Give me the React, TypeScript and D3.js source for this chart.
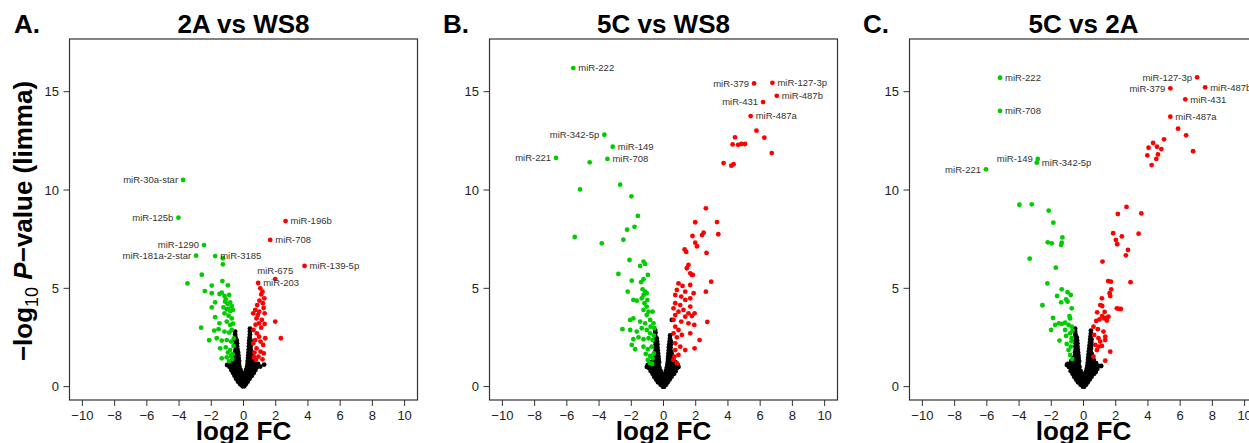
import React from 'react';
import * as d3 from 'd3';

type Pt = [number, number];
type Lab = [string, number, number];

const panelTitles = ['2A vs WS8', '5C vs WS8', '5C vs 2A'];
const panelLetters = ['A.', 'B.', 'C.'];
const xTicks = [-10, -8, -6, -4, -2, 0, 2, 4, 6, 8, 10];
const yTicks = [0, 5, 10, 15];

// ---- panel A: 2A vs WS8 ----
const aDown: Pt[] = [
  [-3.75, 10.51], [-4.04, 8.59], [-2.45, 7.2], [-2.94, 6.66], [-1.76, 6.64],
  [-1.28, 6.53], [-1.28, 6.22], [-2.59, 5.69], [-3.48, 5.25], [-1.31, 5.37], [-1.97, 5.14],
  [-0.97, 5.15], [-2.4, 4.86], [-1.97, 4.75], [-1.49, 4.71], [-1.35, 4.78], [-1.18, 4.61],
  [-0.89, 4.66], [-1.76, 4.29], [-1.14, 4.32], [-0.99, 4.2], [-0.83, 4.29], [-0.73, 4.1],
  [-1.97, 4.03], [-1.24, 4.03], [-1.04, 3.93], [-0.83, 3.85], [-0.66, 3.9], [-1.18, 3.73],
  [-0.93, 3.61], [-1.76, 3.53], [-0.73, 3.47], [-1.49, 3.22], [-1.04, 3.31], [-0.83, 3.14],
  [-2.63, 3.0], [-1.82, 2.85], [-1.55, 2.92], [-1.18, 2.8], [-0.89, 2.75], [-0.73, 2.88],
  [-2.13, 2.36], [-1.66, 2.46], [-1.35, 2.34], [-1.04, 2.37], [-0.77, 2.29], [-1.45, 1.95],
  [-1.1, 2.0], [-0.83, 1.86], [-0.62, 2.07], [-1.35, 1.44], [-1.04, 1.49], [-0.77, 1.56],
  [-0.97, 1.73], [-0.68, 1.65], [-0.9, 1.3], [-0.7, 1.4], [-0.6, 2.45], [-0.65, 3.2],
  [-0.95, 3.95], [-1.1, 4.45],
];
const aUp: Pt[] = [
  [2.61, 8.42], [1.66, 7.46], [3.79, 6.14], [1.97, 5.47], [0.91, 5.27],
  [1.04, 5.0], [1.18, 4.83], [1.1, 4.69], [1.29, 4.49], [0.99, 4.37], [1.2, 4.24], [0.73, 3.9],
  [0.97, 3.81], [0.6, 3.73], [0.89, 3.64], [1.31, 3.73], [0.81, 3.47], [1.14, 3.39], [1.31, 3.19],
  [0.97, 3.22], [1.97, 3.31], [2.32, 2.46], [0.62, 2.88], [0.83, 2.71], [0.97, 2.54], [0.73, 2.37],
  [1.06, 2.29], [1.22, 2.12], [0.81, 1.95], [1.06, 1.78], [1.26, 1.69], [0.93, 1.53], [1.18, 1.39],
  [0.68, 1.73], [0.77, 1.36], [1.35, 2.46], [0.6, 2.2], [0.66, 1.5], [1.1, 3.0], [0.75, 3.15],
  [1.25, 4.0], [0.85, 4.15],
];
const aNs: Pt[] = [
  [0.4, 2.95], [-0.52, 2.8], [0.4, 2.8], [-0.52, 2.65], [0.4, 2.65], [-0.5, 2.5], [0.38, 2.5],
  [-0.5, 2.35], [-0.42, 2.35], [0.36, 2.35], [0.44, 2.35], [-0.48, 2.2], [-0.4, 2.2], [0.35, 2.2], [0.44, 2.2],
  [-0.5, 2.05], [-0.4, 2.05], [0.34, 2.05], [0.44, 2.05], [-0.48, 1.9], [-0.38, 1.9], [0.33, 1.9], [0.44, 1.9],
  [-0.52, 1.75], [-0.42, 1.75], [-0.34, 1.75], [0.31, 1.75], [0.4, 1.75], [0.5, 1.75],
  [-0.5, 1.6], [-0.4, 1.6], [-0.32, 1.6], [0.3, 1.6], [0.4, 1.6], [0.5, 1.6],
  [-0.6, 1.45], [-0.48, 1.45], [-0.38, 1.45], [-0.3, 1.45], [0.28, 1.45], [0.38, 1.45], [0.5, 1.45], [0.6, 1.45],
  [-0.7, 1.3], [-0.56, 1.3], [-0.44, 1.3], [-0.34, 1.3], [-0.27, 1.3], [0.26, 1.3], [0.36, 1.3], [0.48, 1.3], [0.6, 1.3], [0.7, 1.3],
  [-1.02, 1.1], [-0.9, 1.15], [-0.76, 1.15], [-0.62, 1.15], [-0.5, 1.15], [-0.38, 1.15], [-0.28, 1.15],
  [0.25, 1.15], [0.35, 1.15], [0.48, 1.15], [0.62, 1.15], [0.76, 1.15], [0.9, 1.15], [1.04, 1.02], [1.28, 1.12],
  [-0.86, 1.0], [-0.72, 1.0], [-0.58, 1.0], [-0.46, 1.0], [-0.34, 1.0], [-0.25, 1.0],
  [0.22, 1.0], [0.32, 1.0], [0.44, 1.0], [0.58, 1.0], [0.72, 1.0], [0.84, 1.0],
  [-0.76, 0.85], [-0.62, 0.85], [-0.5, 0.85], [-0.38, 0.85], [-0.27, 0.85], [-0.18, 0.85],
  [0.16, 0.85], [0.26, 0.85], [0.38, 0.85], [0.5, 0.85], [0.64, 0.85], [0.74, 0.85],
  [-0.66, 0.7], [-0.54, 0.7], [-0.42, 0.7], [-0.3, 0.7], [-0.18, 0.7], [-0.08, 0.7],
  [0.08, 0.7], [0.18, 0.7], [0.3, 0.7], [0.42, 0.7], [0.56, 0.7], [0.64, 0.7],
  [-0.56, 0.55], [-0.44, 0.55], [-0.32, 0.55], [-0.2, 0.55], [-0.08, 0.55], [0.04, 0.55],
  [0.16, 0.55], [0.28, 0.55], [0.4, 0.55], [0.52, 0.55],
  [-0.46, 0.4], [-0.34, 0.4], [-0.22, 0.4], [-0.1, 0.4], [0.02, 0.4], [0.14, 0.4], [0.26, 0.4], [0.38, 0.4],
  [-0.34, 0.25], [-0.22, 0.25], [-0.1, 0.25], [0.02, 0.25], [0.14, 0.25], [0.26, 0.25],
  [-0.2, 0.12], [-0.08, 0.12], [0.04, 0.12], [0.14, 0.12], [-0.06, 0.02], [0.04, 0.02],
];
const aLabels: Lab[] = [
  ['miR-30a-star', -3.75, 10.51], ['miR-125b', -4.04, 8.59], ['miR-1290', -2.45, 7.2],
  ['miR-181a-2-star', -2.94, 6.66], ['miR-3185', -1.76, 6.64], ['miR-196b', 2.61, 8.42],
  ['miR-708', 1.66, 7.46], ['miR-139-5p', 3.79, 6.14], ['miR-675', 1.97, 5.47], ['miR-203', 0.91, 5.27],
];

// ---- panel B: 5C vs WS8 ----
const bDown: Pt[] = [
  [-5.6, 16.2], [-3.67, 12.81], [-3.15, 12.2], [-6.67, 11.63], [-3.48, 11.58],
  [-4.58, 11.41], [-5.18, 10.03], [-2.69, 10.27], [-1.99, 9.68], [-1.59, 8.68], [-1.8, 8.13],
  [-2.26, 7.98], [-2.49, 7.47], [-5.51, 7.61], [-3.83, 7.29],
  [-2.11, 6.44], [-1.24, 6.36], [-1.14, 6.24], [-1.45, 6.14], [-2.8, 5.73], [-0.97, 5.68],
  [-1.97, 5.39], [-1.24, 5.46], [-1.39, 5.31], [-2.22, 4.83], [-1.14, 4.83], [-1.24, 4.66],
  [-1.04, 4.75], [-1.87, 4.41], [-1.66, 4.37], [-1.35, 4.49], [-1.18, 4.24], [-1.04, 4.07],
  [-1.24, 3.9], [-0.93, 3.81], [-0.68, 3.81], [-1.04, 3.64], [-1.87, 3.47], [-2.07, 3.39],
  [-1.45, 3.31], [-1.14, 3.22], [-0.83, 3.39], [-0.62, 3.22], [-2.55, 2.92], [-2.07, 2.88],
  [-1.66, 2.8], [-1.35, 2.97], [-1.04, 2.88], [-0.83, 2.71], [-0.56, 2.97], [-1.87, 2.41],
  [-1.55, 2.51], [-1.24, 2.41], [-0.93, 2.46], [-0.68, 2.37], [-1.97, 2.12], [-1.76, 1.9],
  [-1.24, 2.03], [-0.97, 1.9], [-0.73, 2.03], [-1.1, 1.66], [-0.83, 1.56], [-0.6, 1.69],
  [-0.97, 1.36], [-0.68, 1.44], [-0.85, 1.2], [-0.7, 1.15], [-1.0, 4.4], [-1.3, 4.95],
  [-0.8, 3.05], [-0.6, 2.6],
];
const bUp: Pt[] = [
  [5.62, 15.42], [6.76, 15.45], [7.03, 14.79], [6.18, 14.47], [5.41, 13.76],
  [5.77, 13.02], [6.26, 12.66], [4.44, 12.68], [4.29, 12.32], [4.63, 12.3], [4.83, 12.34],
  [5.06, 12.34], [6.72, 11.88], [3.73, 11.37], [4.21, 11.24], [4.35, 11.31],
  [2.63, 9.07], [1.97, 8.36], [3.32, 8.37], [3.4, 7.75], [1.8, 7.66], [2.39, 7.71], [2.49, 7.83],
  [1.97, 7.32], [2.08, 7.14], [1.31, 6.98], [1.41, 6.85], [2.67, 6.8],
  [1.55, 6.19], [1.45, 6.02], [1.76, 5.68], [1.66, 5.76], [0.93, 5.25], [1.18, 5.12], [1.66, 5.17],
  [0.83, 4.92], [1.35, 4.83], [0.73, 4.66], [1.1, 4.58], [1.35, 4.41], [1.66, 4.49], [0.73, 4.24],
  [1.04, 4.15], [1.66, 4.07], [0.62, 3.98], [0.93, 3.81], [1.24, 3.9], [1.55, 3.73], [0.73, 3.64],
  [1.35, 3.56], [1.76, 3.59], [0.62, 3.39], [1.1, 3.31], [1.55, 3.22], [0.73, 3.05], [0.93, 2.88],
  [0.62, 2.71], [1.14, 2.63], [1.66, 2.71], [0.83, 2.51], [2.24, 2.37], [0.73, 2.2], [1.04, 2.03],
  [1.93, 1.95], [0.73, 1.86], [1.35, 1.86], [0.68, 1.53], [0.93, 1.61], [0.62, 1.36], [0.83, 1.19],
  [2.96, 5.34], [2.63, 4.83], [2.72, 3.29], [1.91, 3.14], [1.93, 3.73], [1.87, 4.75], [1.82, 5.68],
];
const bNs: Pt[] = [
  [0.52, 3.39], [-0.52, 2.88], [-0.5, 2.75], [-0.52, 2.6], [0.41, 2.6],
  [-0.5, 2.45], [-0.42, 2.45], [0.4, 2.45], [-0.5, 2.3], [-0.4, 2.3], [0.38, 2.3], [0.46, 2.3],
  [-0.48, 2.15], [-0.38, 2.15], [0.36, 2.15], [0.45, 2.15], [-0.5, 2.0], [-0.38, 2.0], [0.34, 2.0], [0.44, 2.0],
  [-0.48, 1.85], [-0.36, 1.85], [0.33, 1.85], [0.43, 1.85],
  [-0.54, 1.7], [-0.44, 1.7], [-0.34, 1.7], [0.31, 1.7], [0.4, 1.7], [0.5, 1.7],
  [-0.52, 1.55], [-0.42, 1.55], [-0.32, 1.55], [0.3, 1.55], [0.4, 1.55], [0.5, 1.55],
  [-0.64, 1.4], [-0.52, 1.4], [-0.4, 1.4], [-0.3, 1.4], [0.28, 1.4], [0.38, 1.4], [0.5, 1.4], [0.6, 1.4],
  [-0.76, 1.25], [-0.62, 1.25], [-0.48, 1.25], [-0.36, 1.25], [-0.27, 1.25],
  [0.26, 1.25], [0.36, 1.25], [0.48, 1.25], [0.62, 1.25], [0.74, 1.25],
  [-1.03, 1.0], [-0.98, 1.1], [-0.84, 1.1], [-0.7, 1.1], [-0.56, 1.1], [-0.42, 1.1], [-0.3, 1.1],
  [0.24, 1.1], [0.34, 1.1], [0.46, 1.1], [0.6, 1.1], [0.74, 1.1], [0.88, 1.1], [0.93, 1.0],
  [-0.9, 0.95], [-0.76, 0.95], [-0.62, 0.95], [-0.48, 0.95], [-0.36, 0.95], [-0.25, 0.95],
  [0.2, 0.95], [0.3, 0.95], [0.42, 0.95], [0.56, 0.95], [0.7, 0.95], [0.84, 0.95],
  [-0.8, 0.8], [-0.66, 0.8], [-0.52, 0.8], [-0.4, 0.8], [-0.28, 0.8], [-0.18, 0.8],
  [0.15, 0.8], [0.26, 0.8], [0.38, 0.8], [0.5, 0.8], [0.64, 0.8], [0.76, 0.8],
  [-0.68, 0.65], [-0.56, 0.65], [-0.44, 0.65], [-0.32, 0.65], [-0.2, 0.65], [-0.08, 0.65],
  [0.06, 0.65], [0.18, 0.65], [0.3, 0.65], [0.42, 0.65], [0.54, 0.65], [0.66, 0.65],
  [-0.58, 0.5], [-0.46, 0.5], [-0.34, 0.5], [-0.22, 0.5], [-0.1, 0.5], [0.02, 0.5],
  [0.14, 0.5], [0.26, 0.5], [0.38, 0.5], [0.5, 0.5],
  [-0.46, 0.36], [-0.34, 0.36], [-0.22, 0.36], [-0.1, 0.36], [0.02, 0.36], [0.14, 0.36], [0.26, 0.36], [0.38, 0.36],
  [-0.34, 0.22], [-0.22, 0.22], [-0.1, 0.22], [0.02, 0.22], [0.14, 0.22], [0.26, 0.22],
  [-0.18, 0.1], [-0.06, 0.1], [0.06, 0.1], [0.16, 0.1], [-0.04, 0.0], [0.04, 0.0],
];
const bLabels: Lab[] = [
  ['miR-222', -5.6, 16.2], ['miR-342-5p', -3.67, 12.81], ['miR-149', -3.15, 12.2],
  ['miR-221', -6.67, 11.63], ['miR-708', -3.48, 11.58], ['miR-379', 5.62, 15.42],
  ['miR-127-3p', 6.76, 15.45], ['miR-487b', 7.03, 14.79], ['miR-431', 6.18, 14.47], ['miR-487a', 5.41, 13.76],
];

// ---- panel C: 5C vs 2A ----
const cDown: Pt[] = [
  [-5.18, 15.71], [-5.18, 14.02], [-2.84, 11.58], [-2.9, 11.39], [-6.05, 11.05],
  [-3.98, 9.25], [-3.21, 9.27], [-2.16, 8.95], [-1.87, 8.34], [-1.31, 7.59], [-2.22, 7.34],
  [-1.97, 7.29], [-1.35, 7.32], [-1.39, 7.2], [-3.34, 6.51], [-1.72, 6.05], [-2.24, 5.25],
  [-1.35, 4.95], [-0.99, 4.8], [-0.79, 4.66], [-1.64, 4.61], [-1.08, 4.44], [-0.99, 4.32],
  [-1.39, 4.29], [-2.55, 4.14], [-0.73, 3.98], [-0.87, 3.59], [-0.83, 3.47], [-1.89, 3.49],
  [-1.53, 3.22], [-1.35, 3.19], [-1.14, 3.25], [-0.93, 3.14], [-0.73, 3.05], [-2.01, 2.88],
  [-1.76, 3.14], [-1.14, 2.88], [-0.83, 2.71], [-1.08, 2.58], [-1.49, 2.34], [-0.73, 2.46],
  [-1.04, 2.17], [-0.79, 2.03], [-0.93, 1.86], [-0.83, 1.61], [-0.7, 1.4], [-0.75, 2.3], [-0.68, 2.85],
];
const cUp: Pt[] = [
  [7.05, 15.73], [5.39, 15.17], [7.55, 15.22], [6.32, 14.61], [5.39, 13.73],
  [5.87, 13.12], [6.37, 12.78], [5.0, 12.58], [4.32, 12.39], [4.04, 12.15], [4.56, 12.2],
  [4.83, 12.08], [3.96, 11.76], [4.62, 11.81], [4.52, 11.58], [4.23, 11.27], [6.8, 11.97],
  [2.67, 9.14], [3.59, 8.81], [2.13, 8.78], [1.84, 7.8], [2.38, 7.64], [3.42, 7.78], [2.01, 7.46],
  [2.09, 7.24], [2.76, 6.95], [2.63, 6.68], [1.18, 6.36], [2.92, 5.31], [1.53, 5.37], [1.7, 5.34],
  [1.62, 4.75], [1.66, 4.61], [1.72, 4.95], [1.14, 4.49], [1.04, 4.15], [2.07, 3.98], [2.2, 3.95],
  [2.32, 3.95], [0.85, 3.78], [1.31, 3.8], [1.55, 3.56], [1.45, 3.36], [1.16, 3.59], [0.79, 3.34],
  [0.99, 3.42], [1.28, 3.47], [1.45, 3.51], [0.62, 3.05], [0.89, 2.92], [1.24, 2.8], [0.66, 2.63],
  [0.93, 2.46], [1.04, 2.29], [1.35, 2.54], [0.73, 2.12], [0.93, 2.03], [1.14, 2.07], [1.35, 2.37],
  [1.66, 1.78], [0.83, 1.86], [1.35, 1.32], [0.62, 1.53], [1.16, 4.1],
];
const cNs: Pt[] = [
  [-0.52, 2.95], [0.46, 2.85], [-0.52, 2.8], [0.46, 2.7], [-0.5, 2.65], [0.44, 2.55],
  [-0.5, 2.5], [-0.42, 2.5], [0.42, 2.4], [0.5, 2.4], [-0.5, 2.35], [-0.4, 2.35], [0.4, 2.25], [0.48, 2.25],
  [-0.48, 2.2], [-0.38, 2.2], [0.38, 2.1], [0.47, 2.1], [-0.5, 2.05], [-0.38, 2.05], [0.36, 1.95], [0.46, 1.95],
  [-0.48, 1.9], [-0.36, 1.9], [0.34, 1.8], [0.44, 1.8], [-0.52, 1.75], [-0.42, 1.75], [-0.34, 1.75],
  [0.32, 1.65], [0.42, 1.65], [0.52, 1.65], [-0.52, 1.6], [-0.42, 1.6], [-0.32, 1.6],
  [0.3, 1.5], [0.4, 1.5], [0.52, 1.5], [-0.64, 1.45], [-0.52, 1.45], [-0.4, 1.45], [-0.3, 1.45],
  [0.28, 1.35], [0.4, 1.35], [0.52, 1.35], [0.64, 1.35],
  [-0.76, 1.3], [-0.62, 1.3], [-0.48, 1.3], [-0.36, 1.3], [-0.27, 1.3],
  [0.26, 1.2], [0.38, 1.2], [0.5, 1.2], [0.64, 1.2], [0.78, 1.2],
  [-1.03, 1.1], [-0.98, 1.15], [-0.84, 1.15], [-0.7, 1.15], [-0.56, 1.15], [-0.42, 1.15], [-0.3, 1.15],
  [0.24, 1.05], [0.36, 1.05], [0.48, 1.05], [0.62, 1.05], [0.76, 1.05], [0.92, 1.05], [1.1, 1.05],
  [-0.9, 1.0], [-0.76, 1.0], [-0.62, 1.0], [-0.48, 1.0], [-0.36, 1.0], [-0.25, 1.0],
  [0.2, 0.9], [0.32, 0.9], [0.44, 0.9], [0.58, 0.9], [0.72, 0.9], [0.86, 0.9],
  [-0.8, 0.8], [-0.66, 0.8], [-0.52, 0.8], [-0.4, 0.8], [-0.28, 0.8], [-0.18, 0.8],
  [0.15, 0.75], [0.26, 0.75], [0.38, 0.75], [0.5, 0.75], [0.64, 0.75], [0.76, 0.75],
  [-0.68, 0.65], [-0.56, 0.65], [-0.44, 0.65], [-0.32, 0.65], [-0.2, 0.65], [-0.08, 0.65],
  [0.06, 0.65], [0.18, 0.65], [0.3, 0.65], [0.42, 0.65], [0.54, 0.65], [0.66, 0.65],
  [-0.58, 0.5], [-0.46, 0.5], [-0.34, 0.5], [-0.22, 0.5], [-0.1, 0.5], [0.02, 0.5],
  [0.14, 0.5], [0.26, 0.5], [0.38, 0.5], [0.5, 0.5],
  [-0.46, 0.36], [-0.34, 0.36], [-0.22, 0.36], [-0.1, 0.36], [0.02, 0.36], [0.14, 0.36], [0.26, 0.36], [0.38, 0.36],
  [-0.34, 0.22], [-0.22, 0.22], [-0.1, 0.22], [0.02, 0.22], [0.14, 0.22], [0.26, 0.22],
  [-0.18, 0.1], [-0.06, 0.1], [0.06, 0.1], [0.16, 0.1], [-0.04, 0.0], [0.04, 0.0],
];
const cLabels: Lab[] = [
  ['miR-222', -5.18, 15.71], ['miR-708', -5.18, 14.02], ['miR-149', -2.84, 11.58],
  ['miR-342-5p', -2.9, 11.39], ['miR-221', -6.05, 11.05], ['miR-127-3p', 7.05, 15.73],
  ['miR-379', 5.39, 15.17], ['miR-487b', 7.55, 15.22], ['miR-431', 6.32, 14.61], ['miR-487a', 5.39, 13.73],
];

// which side of the dot each label sits on (l / r / t)
const labelSide: Record<string, string>[] = [
  { 'miR-30a-star': 'l', 'miR-125b': 'l', 'miR-1290': 'l', 'miR-181a-2-star': 'l', 'miR-3185': 'r',
    'miR-196b': 'r', 'miR-708': 'r', 'miR-139-5p': 'r', 'miR-675': 't', 'miR-203': 'r' },
  { 'miR-222': 'r', 'miR-342-5p': 'l', 'miR-149': 'r', 'miR-221': 'l', 'miR-708': 'r',
    'miR-379': 'l', 'miR-127-3p': 'r', 'miR-487b': 'r', 'miR-431': 'l', 'miR-487a': 'r' },
  { 'miR-222': 'r', 'miR-708': 'r', 'miR-149': 'l', 'miR-342-5p': 'r', 'miR-221': 'l',
    'miR-127-3p': 'l', 'miR-379': 'l', 'miR-487b': 'r', 'miR-431': 'r', 'miR-487a': 'r' },
];

const panels = [
  { down: aDown, up: aUp, ns: aNs, labels: aLabels },
  { down: bDown, up: bUp, ns: bNs, labels: bLabels },
  { down: cDown, up: cUp, ns: cNs, labels: cLabels },
];

const FONT = "'Liberation Sans', Arial, Helvetica, sans-serif";
const panelX = [0, 420, 840];
const letterX = [14, 443, 863];
const box = { left: 69.5, right: 417.5, top: 39, bottom: 400 };
const R = 2.4;

const x = d3.scaleLinear().domain([-10.8, 10.8]).range([box.left, box.right]);
const y = d3.scaleLinear().domain([-0.68, 17.68]).range([box.bottom, box.top]);

function Panel({ i }: { i: number }) {
  const p = panels[i];
  const sides = labelSide[i];
  const cx = (box.left + box.right) / 2;
  return (
    <g transform={`translate(${panelX[i]},0)`}>
      <text x={letterX[i] - panelX[i]} y={33} fontSize={26} fontWeight="bold" fontFamily={FONT}>
        {panelLetters[i]}
      </text>
      <text x={cx} y={33} fontSize={26} fontWeight="bold" textAnchor="middle" fontFamily={FONT}>
        {panelTitles[i]}
      </text>

      {p.ns.map((d, k) => (
        <circle key={'n' + k} cx={x(d[0])} cy={y(d[1])} r={R} fill="#000" />
      ))}
      {p.down.map((d, k) => (
        <circle key={'d' + k} cx={x(d[0])} cy={y(d[1])} r={R} fill="#00CD00" />
      ))}
      {p.up.map((d, k) => (
        <circle key={'u' + k} cx={x(d[0])} cy={y(d[1])} r={R} fill="#FF0000" />
      ))}

      {p.labels.map(([name, lx, ly]) => {
        const s = sides[name];
        const px = x(lx);
        const py = y(ly);
        if (s === 't') {
          return (
            <text key={name} x={px} y={py - 5.5} fontSize={9.5} fill="#333" textAnchor="middle" fontFamily={FONT}>
              {name}
            </text>
          );
        }
        return (
          <text key={name} x={s === 'l' ? px - 5 : px + 5} y={py} dy="0.35em" fontSize={9.5} fill="#333"
            textAnchor={s === 'l' ? 'end' : 'start'} fontFamily={FONT}>
            {name}
          </text>
        );
      })}

      <rect x={box.left} y={box.top} width={box.right - box.left} height={box.bottom - box.top}
        fill="none" stroke="#333" strokeWidth={1.2} />

      {xTicks.map(t => (
        <g key={'x' + t}>
          <line x1={x(t)} x2={x(t)} y1={box.bottom} y2={box.bottom + 6} stroke="#333" strokeWidth={1} />
          <text x={x(t)} y={419.5} fontSize={13} textAnchor="middle" fill="#222" fontFamily={FONT}>
            {t < 0 ? '\u2212' + Math.abs(t) : t}
          </text>
        </g>
      ))}
      {yTicks.map(t => (
        <g key={'y' + t}>
          <line x1={box.left - 6} x2={box.left} y1={y(t)} y2={y(t)} stroke="#333" strokeWidth={1} />
          <text x={59} y={y(t)} dy="0.35em" fontSize={13} textAnchor="end" fill="#222" fontFamily={FONT}>
            {t}
          </text>
        </g>
      ))}

      <text x={cx} y={440} fontSize={26} fontWeight="bold" textAnchor="middle" fontFamily={FONT}>
        log2 FC
      </text>

      {i === 0 && (
        <text transform="translate(32,221) rotate(-90)" fontSize={26} fontWeight="bold" textAnchor="middle"
          fontFamily={FONT}>
          <tspan>{'\u2212log'}</tspan>
          <tspan fontSize={18} fontWeight="normal" dy={6}>10</tspan>
          <tspan dy={-6}> </tspan>
          <tspan fontStyle="italic">P</tspan>
          <tspan>{'\u2212value (limma)'}</tspan>
        </text>
      )}
    </g>
  );
}

export default function App() {
  return (
    <div>
      <style>{'body{margin:0;background:#fff}'}</style>
      <svg width={1249} height={443} style={{ display: 'block', background: '#fff' }}>
        {[0, 1, 2].map(i => (
          <Panel key={i} i={i} />
        ))}
      </svg>
    </div>
  );
}
